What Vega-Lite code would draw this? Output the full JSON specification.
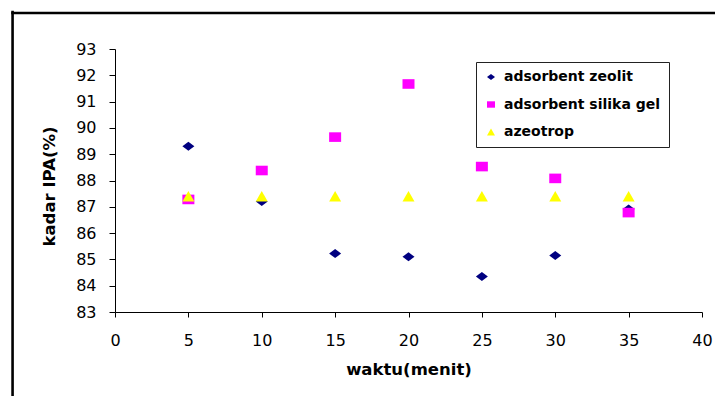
{
  "$schema": "https://vega.github.io/schema/vega-lite/v6.json",
  "width": 587,
  "height": 263,
  "autosize": {"type": "none"},
  "padding": {"left": 115, "top": 49, "right": 13, "bottom": 84},
  "background": "white",
  "config": {
    "view": {"stroke": null},
    "font": "DejaVu Sans",
    "axis": {
      "grid": false,
      "domainColor": "black",
      "tickColor": "black",
      "labelColor": "black",
      "titleColor": "black",
      "labelFontSize": 16,
      "titleFontSize": 16.5,
      "titleFontWeight": "bold",
      "labelFont": "DejaVu Sans",
      "titleFont": "DejaVu Sans",
      "labelOverlap": false,
      "labelFlush": false
    },
    "axisY": {"tickCount": 12, "tickSize": 6, "labelPadding": 13, "titlePadding": 18},
    "axisX": {"tickCount": 12, "tickSize": 5, "labelPadding": 15, "titlePadding": 13}
  },
  "layer": [
    {
      "data": {
        "values": [
          {"waktu": 5, "kadar": 89.3, "seri": "adsorbent zeolit"},
          {"waktu": 10, "kadar": 87.2, "seri": "adsorbent zeolit"},
          {"waktu": 15, "kadar": 85.22, "seri": "adsorbent zeolit"},
          {"waktu": 20, "kadar": 85.1, "seri": "adsorbent zeolit"},
          {"waktu": 25, "kadar": 84.35, "seri": "adsorbent zeolit"},
          {"waktu": 30, "kadar": 85.15, "seri": "adsorbent zeolit"},
          {"waktu": 35, "kadar": 86.92, "seri": "adsorbent zeolit"},
          {"waktu": 5, "kadar": 87.28, "seri": "adsorbent silika gel"},
          {"waktu": 10, "kadar": 88.38, "seri": "adsorbent silika gel"},
          {"waktu": 15, "kadar": 89.65, "seri": "adsorbent silika gel"},
          {"waktu": 20, "kadar": 91.67, "seri": "adsorbent silika gel"},
          {"waktu": 25, "kadar": 88.53, "seri": "adsorbent silika gel"},
          {"waktu": 30, "kadar": 88.08, "seri": "adsorbent silika gel"},
          {"waktu": 35, "kadar": 86.78, "seri": "adsorbent silika gel"},
          {"waktu": 5, "kadar": 87.4, "seri": "azeotrop"},
          {"waktu": 10, "kadar": 87.4, "seri": "azeotrop"},
          {"waktu": 15, "kadar": 87.4, "seri": "azeotrop"},
          {"waktu": 20, "kadar": 87.4, "seri": "azeotrop"},
          {"waktu": 25, "kadar": 87.4, "seri": "azeotrop"},
          {"waktu": 30, "kadar": 87.4, "seri": "azeotrop"},
          {"waktu": 35, "kadar": 87.4, "seri": "azeotrop"}
        ]
      },
      "mark": {"type": "point", "filled": true, "opacity": 1, "size": 144},
      "encoding": {
        "x": {
          "field": "waktu",
          "type": "quantitative",
          "title": "waktu(menit)",
          "scale": {"domain": [0, 40], "nice": false, "zero": false},
          "axis": {"values": [0, 5, 10, 15, 20, 25, 30, 35, 40]}
        },
        "y": {
          "field": "kadar",
          "type": "quantitative",
          "title": "kadar IPA(%)",
          "scale": {"domain": [83, 93], "nice": false, "zero": false},
          "axis": {"values": [83, 84, 85, 86, 87, 88, 89, 90, 91, 92, 93], "titleY": 137, "titleAlign": "center"}
        },
        "color": {
          "field": "seri",
          "type": "nominal",
          "sort": ["adsorbent zeolit", "adsorbent silika gel", "azeotrop"],
          "scale": {"domain": ["adsorbent zeolit", "adsorbent silika gel", "azeotrop"], "range": ["#000080", "#FF00FF", "#FFFF00"]},
          "legend": {
            "title": null,
            "orient": "none",
            "legendX": 361,
            "legendY": 13,
            "strokeColor": "#222222",
            "fillColor": "white",
            "padding": 8,
            "rowPadding": 13.5,
            "labelFontSize": 14,
            "labelFontWeight": "bold",
            "labelColor": "black",
            "labelFont": "DejaVu Sans",
            "symbolSize": 64,
            "labelOffset": 6
          }
        },
        "shape": {
          "field": "seri",
          "type": "nominal",
          "scale": {"domain": ["adsorbent zeolit", "adsorbent silika gel", "azeotrop"], "range": ["M-1,0L0,-0.75L1,0L0,0.75Z", "M-1,-0.8L1,-0.8L1,0.8L-1,0.8Z", "triangle-up"]},
          "legend": null
        }
      }
    },
    {
      "data": {"values": [{}]},
      "mark": {"type": "rule", "color": "black", "strokeWidth": 2.6, "clip": false},
      "encoding": {
        "x": {"datum": -6.98, "type": "quantitative", "axis": {"values": [0, 5, 10, 15, 20, 25, 30, 35, 40]}},
        "y": {"datum": 94.45, "type": "quantitative", "axis": {"values": [83, 84, 85, 86, 87, 88, 89, 90, 91, 92, 93], "titleY": 137, "titleAlign": "center"}},
        "y2": {"datum": 79.0}
      }
    },
    {
      "data": {"values": [{}]},
      "mark": {"type": "rule", "color": "black", "strokeWidth": 2.6, "clip": false},
      "encoding": {
        "x": {"datum": -7.07, "type": "quantitative", "axis": {"values": [0, 5, 10, 15, 20, 25, 30, 35, 40]}},
        "x2": {"datum": 42},
        "y": {"datum": 94.37, "type": "quantitative", "axis": {"values": [83, 84, 85, 86, 87, 88, 89, 90, 91, 92, 93], "titleY": 137, "titleAlign": "center"}}
      }
    }
  ]
}
